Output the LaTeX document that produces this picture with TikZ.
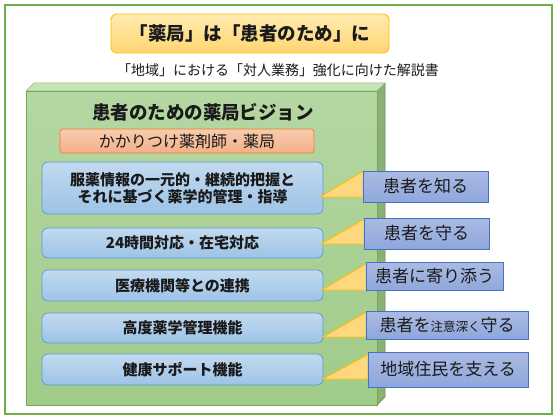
\documentclass[tikz,border=0pt]{standalone}
\usepackage{fontspec}
\setmainfont{Noto Sans CJK JP}
\usetikzlibrary{calc}
\pgfdeclarelayer{front}
\pgfsetlayers{main,front}
\definecolor{frameg}{HTML}{70AD47}
\definecolor{titletop}{HTML}{FFEBB0}
\definecolor{titlebot}{HTML}{FFD571}
\definecolor{titleedge}{HTML}{FFC000}
\definecolor{gfronttop}{HTML}{B5D7A3}
\definecolor{gfrontbot}{HTML}{A0CB88}
\definecolor{gtop}{HTML}{C7E1B8}
\definecolor{gside}{HTML}{8CAE77}
\definecolor{gedge}{HTML}{70AD47}
\definecolor{orgtop}{HTML}{F8CBAD}
\definecolor{orgbot}{HTML}{F4B08A}
\definecolor{orgedge}{HTML}{ED7D31}
\definecolor{bluetop}{HTML}{C2DAF0}
\definecolor{bluebot}{HTML}{9DC3E6}
\definecolor{blueedge}{HTML}{5B9BD5}
\definecolor{caltop}{HTML}{ABBAE3}
\definecolor{calbot}{HTML}{8EA7DB}
\definecolor{caledge}{HTML}{4472C4}
\definecolor{trifill}{HTML}{FFD77F}
\definecolor{txt}{HTML}{1A1A1A}
\begin{document}
\begin{tikzpicture}[x=1pt,y=-1pt,
  titlebox/.style={draw=titleedge, line width=0.9pt, rounded corners=6pt,
    top color=titletop, bottom color=titlebot, minimum width=278pt, minimum height=39pt,
    inner sep=0pt, text=txt, font=\fontsize{18.5}{22}\selectfont\bfseries},
  subtitle/.style={inner sep=0pt, text=txt, font=\fontsize{14}{17}\selectfont},
  heading/.style={inner sep=0pt, text=txt, font=\fontsize{18.5}{22}\selectfont\bfseries},
  orgbox/.style={draw=orgedge, line width=0.7pt, rounded corners=3pt,
    top color=orgtop, bottom color=orgbot, minimum width=254pt, minimum height=24pt,
    inner sep=0pt, text=txt, font=\fontsize{16}{19}\selectfont},
  bluebox/.style={draw=blueedge, line width=0.7pt, rounded corners=6pt,
    top color=bluetop, bottom color=bluebot, minimum width=281pt,
    inner sep=0pt, align=center, text=txt, font=\fontsize{15}{17}\selectfont\bfseries},
  callout/.style={draw=caledge, line width=0.8pt,
    top color=caltop, bottom color=calbot,
    inner sep=0pt, text=txt, font=\fontsize{17}{20}\selectfont},
  trishape/.style={fill=trifill},
  triedge/.style={draw=titleedge, line width=0.9pt}
]
\useasboundingbox (0,0) rectangle (560,420);
\fill[white] (0,0) rectangle (560,420);
% outer frame
\draw[frameg, line width=1.2pt] (5,5) rectangle (552,414);
% title
\node[titlebox] (title) at (250,33.5) {「薬局」は「患者のため」に};
\node[subtitle] (sub) at (278,70) {「地域」における「対人業務」強化に向けた解説書};
% green 3D box
\fill[gtop] (26,91) -- (34,83) -- (385,83) -- (377,91) -- cycle;
\fill[gside] (377,91) -- (385,83) -- (385,397) -- (377,405) -- cycle;
\shade[top color=gfronttop, bottom color=gfrontbot] (26,91) rectangle (377,405);
\draw[gedge, line width=0.8pt] (26,405) -- (26,91) -- (377,91) -- (377,405) -- cycle;
\draw[gedge!80!white, line width=0.5pt] (26,91) -- (34,83) -- (385,83) -- (377,91);
\draw[gedge!80!black, line width=0.5pt] (385,83) -- (385,397) -- (377,405);
\node[heading] (vision) at (203,112) {患者のための薬局ビジョン};
\node[orgbox] (kakari) at (187,141) {かかりつけ薬剤師・薬局};
% blue boxes
\node[bluebox, minimum height=52pt] (b1) at (182.5,188) {服薬情報の一元的・継続的把握と\\それに基づく薬学的管理・指導};
\node[bluebox, minimum height=30pt] (b2) at (182.5,243) {24時間対応・在宅対応};
\node[bluebox, minimum height=31pt] (b3) at (182.5,285.5) {医療機関等との連携};
\node[bluebox, minimum height=30pt] (b4) at (182.5,328) {高度薬学管理機能};
\node[bluebox, minimum height=31pt] (b5) at (182.5,369.5) {健康サポート機能};
% callouts
\begin{pgfonlayer}{front}
\node[callout, minimum width=125pt, minimum height=31pt] (c1) at (425.5,186.5) {患者を知る};
\node[callout, minimum width=125pt, minimum height=31pt] (c2) at (426.5,233.5) {患者を守る};
\node[callout, minimum width=137pt, minimum height=28pt] (c3) at (434.5,276.5) {患者に寄り添う};
\node[callout, minimum width=162pt, minimum height=28pt] (c4) at (447,325) {患者を{\fontsize{12.5}{15}\selectfont 注意深く}守る};
\node[callout, minimum width=160pt, minimum height=35pt] (c5) at (448,369.5) {地域住民を支える};
\end{pgfonlayer}
% pointer tips
\coordinate (t1) at (320,197);
\coordinate (t2) at (321,244);
\coordinate (t3) at (322,290);
\coordinate (t4) at (323,337);
\coordinate (t5) at (323,379);
\foreach \i/\d in {1/1,2/2,3/2,4/2,5/3}{
  \fill[trishape] ($(c\i.north west)+(0,\d)$) -- (t\i) -- (c\i.west |- t\i) -- cycle;
  \draw[triedge] ($(c\i.north west)+(0,\d)$) -- (t\i) -- (c\i.west |- t\i);
}
\end{tikzpicture}
\end{document}
